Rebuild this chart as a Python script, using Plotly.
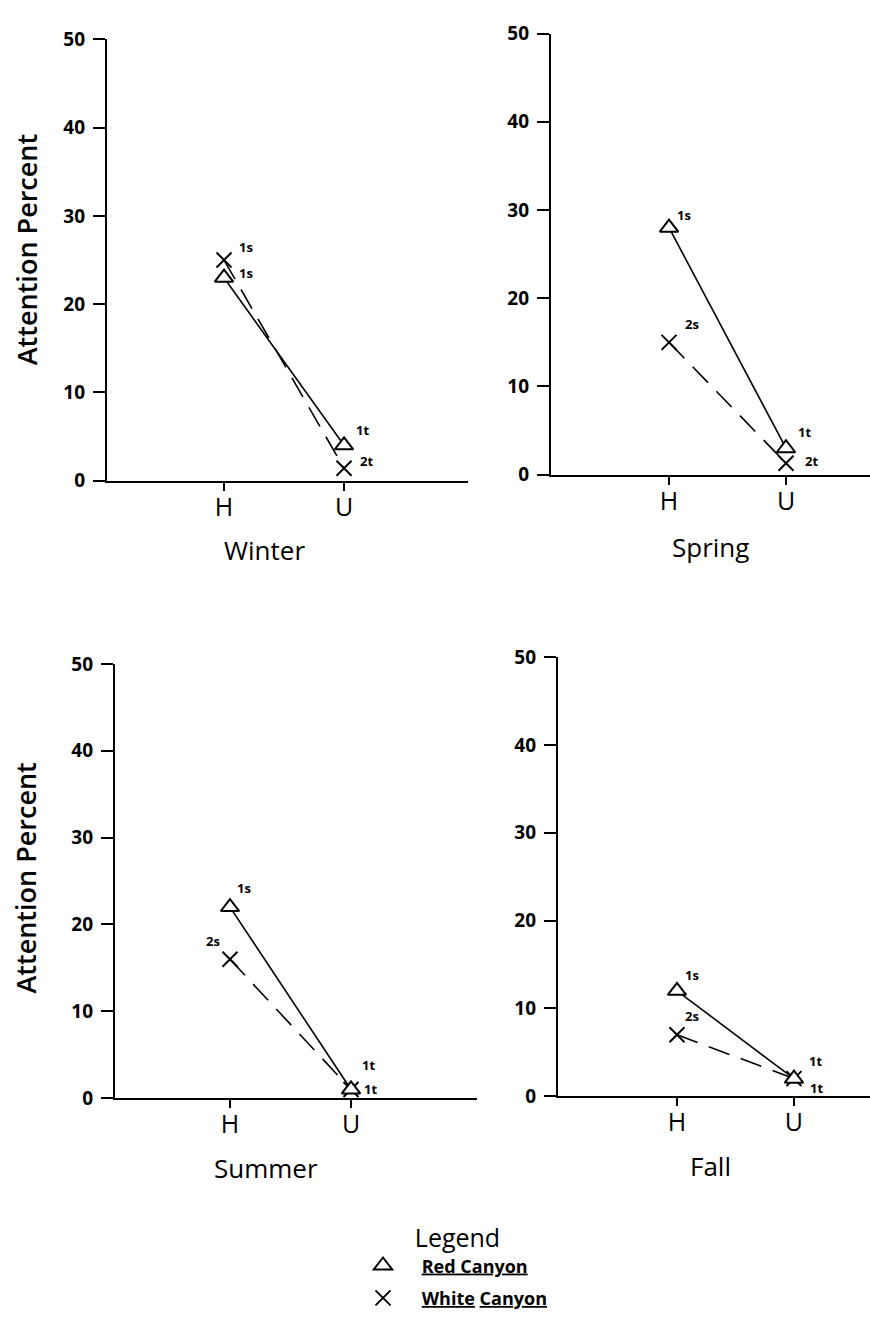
import plotly.graph_objects as go

# ---- data ---------------------------------------------------------------
seasons = ["Winter", "Spring", "Summer", "Fall"]
sites = ["H", "U"]
y_ticks = [0, 10, 20, 30, 40, 50]

red_winter = [23, 4]
white_winter = [25, 1.4]
red_spring = [28, 3]
white_spring = [15, 1.3]
red_summer = [22, 1]
white_summer = [16, 1]
red_fall = [12, 2]
white_fall = [7, 2]

red_labels_winter = ["1s", "1t"]
white_labels_winter = ["1s", "2t"]
red_labels_spring = ["1s", "1t"]
white_labels_spring = ["2s", "2t"]
red_labels_summer = ["1s", "1t"]
white_labels_summer = ["2s", "1t"]
red_labels_fall = ["1s", "1t"]
white_labels_fall = ["2s", "1t"]

# ---- layout helpers -----------------------------------------------------
W, H = 870, 1318


def px(x):
    return x / W


def py(y):
    return 1 - y / H


FONT = "Open Sans"
INK = "black"

# per panel: x domain pixels, y pixels of 0 and 50, x range, title position
panels = {
    "Winter": dict(x0=107, x1=468, y0=477, y50=27, xr=[-0.975, 2.033], title=(264, 548)),
    "Spring": dict(x0=551, x1=870, y0=471, y50=21, xr=[-1.009, 1.718], title=(710, 545)),
    "Summer": dict(x0=115, x1=477, y0=1107, y50=664, xr=[-0.950, 2.041], title=(266, 1178)),
    "Fall": dict(x0=558, x1=870, y0=1105, y50=657, xr=[-1.017, 1.650], title=(710, 1176)),
}

series = {
    "Winter": (red_winter, white_winter, red_labels_winter, white_labels_winter),
    "Spring": (red_spring, white_spring, red_labels_spring, white_labels_spring),
    "Summer": (red_summer, white_summer, red_labels_summer, white_labels_summer),
    "Fall": (red_fall, white_fall, red_labels_fall, white_labels_fall),
}

# label offsets (dx, dy in screen pixels, y downward) for red / white points
label_offsets = {
    "Winter": ([(22, -5), (18, -15)], [(22, -13), (22, -7)]),
    "Spring": ([(15, -13), (18, -16)], [(23, -18), (25, -2)]),
    "Summer": ([(14, -19), (17, -24)], [(-17, -18), (19, 0)]),
    "Fall": ([(15, -16), (22, -18)], [(15, -19), (23, 9)]),
}

fig = go.Figure()
annotations = []
layout_axes = {}

for i, season in enumerate(seasons, start=1):
    p = panels[season]
    red, white, red_lbl, white_lbl = series[season]
    xa = "x" if i == 1 else f"x{i}"
    ya = "y" if i == 1 else f"y{i}"

    # connecting lines
    fig.add_trace(go.Scatter(
        x=sites, y=white, xaxis=xa, yaxis=ya, mode="lines",
        line=dict(color=INK, width=1.6, dash="22px,12px"),
        showlegend=False, hoverinfo="skip"))
    fig.add_trace(go.Scatter(
        x=sites, y=red, xaxis=xa, yaxis=ya, mode="lines",
        line=dict(color=INK, width=1.6),
        showlegend=False, hoverinfo="skip"))
    # markers
    fig.add_trace(go.Scatter(
        x=sites, y=white, xaxis=xa, yaxis=ya, mode="markers",
        name="\u00a0\u00a0\u00a0\u00a0<u><b>White</b></u> <u><b>Canyon</b></u>",
        legendgroup="white",
        marker=dict(symbol="x-thin", size=15, line=dict(color=INK, width=2)),
        showlegend=(i == 1), legendrank=2))
    fig.add_trace(go.Scatter(
        x=sites, y=red, xaxis=xa, yaxis=ya, mode="markers",
        name="\u00a0\u00a0\u00a0\u00a0<u><b>Red Canyon</b></u>",
        legendgroup="red",
        marker=dict(symbol="triangle-up", size=16, color="white",
                    line=dict(color=INK, width=2)),
        showlegend=(i == 1), legendrank=1))

    # point labels
    for vals, lbls, offs in ((red, red_lbl, label_offsets[season][0]),
                             (white, white_lbl, label_offsets[season][1])):
        for s, v, t, (dx, dy) in zip(sites, vals, lbls, offs):
            annotations.append(dict(
                x=s, y=v, xref=xa, yref=ya, text=f"<b>{t}</b>", showarrow=False,
                xshift=dx, yshift=-dy, font=dict(family=FONT, size=13, color=INK)))

    layout_axes["xaxis" if i == 1 else f"xaxis{i}"] = dict(
        domain=[px(p["x0"]), px(p["x1"])], range=p["xr"], anchor=ya,
        type="category", categoryorder="array", categoryarray=sites,
        showline=True, linecolor=INK, linewidth=2.2, showgrid=False, zeroline=False,
        ticks="outside", ticklen=8, tickwidth=1.5, tickcolor=INK,
        ticklabelstandoff=-5,
        tickfont=dict(family=FONT, size=25, color=INK))
    layout_axes["yaxis" if i == 1 else f"yaxis{i}"] = dict(
        domain=[py(p["y0"]), py(p["y50"])], range=[0, 50], anchor=xa,
        tickvals=y_ticks, showline=True, linecolor=INK, linewidth=2.2,
        showgrid=False, zeroline=False,
        ticks="outside", ticklen=12, tickwidth=1.8, tickcolor=INK,
        ticklabelstandoff=4,
        tickfont=dict(family=FONT, size=19, color=INK, weight="bold"))

    tx, ty = p["title"]
    annotations.append(dict(
        x=px(tx), y=py(ty), xref="paper", yref="paper", text=season,
        showarrow=False, xanchor="center", yanchor="middle",
        font=dict(family=FONT, size=26, color=INK)))

# y-axis titles on the left column
for cy in (242, 883):
    annotations.append(dict(
        x=px(26), y=py(cy), xref="paper", yref="paper", text="Attention Percent",
        textangle=-90, showarrow=False, xanchor="center", yanchor="middle",
        font=dict(family=FONT, size=27, color=INK, weight=600)))

fig.update_layout(
    width=W, height=H,
    margin=dict(l=0, r=0, t=0, b=0),
    paper_bgcolor="white", plot_bgcolor="white",
    annotations=annotations,
    showlegend=True,
    legend=dict(
        x=px(363), y=py(1226), xanchor="left", yanchor="top",
        title=dict(text="Legend", side="top center",
                   font=dict(family=FONT, size=25, color=INK)),
        font=dict(family=FONT, size=18, color=INK),
        bgcolor="rgba(0,0,0,0)", itemwidth=30, tracegroupgap=6,
        traceorder="grouped"),
    **layout_axes,
)

fig.write_html("out.html")
